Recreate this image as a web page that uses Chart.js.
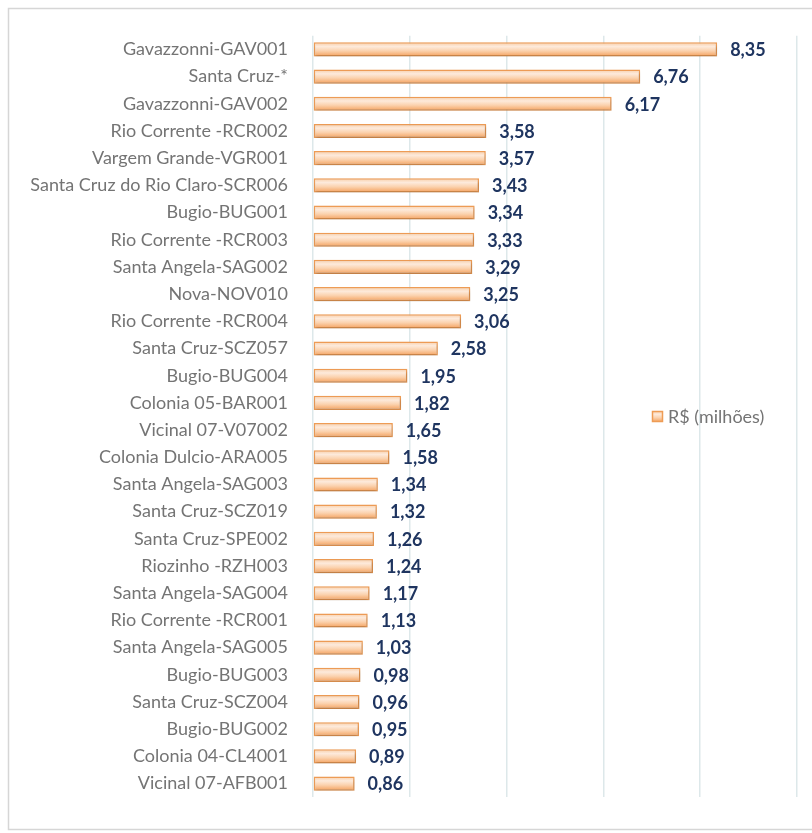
<!DOCTYPE html>
<html>
<head>
<meta charset="utf-8">
<script src="https://cdn.jsdelivr.net/npm/chart.js@4/dist/chart.umd.min.js"></script>
<style>
  html, body { margin: 0; padding: 0; background: #ffffff; }
  #wrap { width: 812px; height: 833px; position: relative; }
</style>
</head>
<body>
<div id="wrap"><canvas id="chart" width="812" height="833"></canvas></div>
<script>
// Investment per stretch, in millions of reais
const categories = [
  'Gavazzonni-GAV001', 'Santa Cruz-*', 'Gavazzonni-GAV002', 'Rio Corrente -RCR002',
  'Vargem Grande-VGR001', 'Santa Cruz do Rio Claro-SCR006', 'Bugio-BUG001',
  'Rio Corrente -RCR003', 'Santa Angela-SAG002', 'Nova-NOV010', 'Rio Corrente -RCR004',
  'Santa Cruz-SCZ057', 'Bugio-BUG004', 'Colonia 05-BAR001', 'Vicinal 07-V07002',
  'Colonia Dulcio-ARA005', 'Santa Angela-SAG003', 'Santa Cruz-SCZ019', 'Santa Cruz-SPE002',
  'Riozinho -RZH003', 'Santa Angela-SAG004', 'Rio Corrente -RCR001', 'Santa Angela-SAG005',
  'Bugio-BUG003', 'Santa Cruz-SCZ004', 'Bugio-BUG002', 'Colonia 04-CL4001', 'Vicinal 07-AFB001'
];
const values = [
  8.35, 6.76, 6.17, 3.58, 3.57, 3.43, 3.34, 3.33, 3.29, 3.25, 3.06, 2.58, 1.95, 1.82,
  1.65, 1.58, 1.34, 1.32, 1.26, 1.24, 1.17, 1.13, 1.03, 0.98, 0.96, 0.95, 0.89, 0.86
];
const seriesLabel = 'R$ (milhões)';
const axisMin = 0, axisMax = 10, axisStep = 2;

const LABEL_FONT = 'Lato, "Open Sans", sans-serif';
const BORDER_ORANGE = '#ee9c55';
const BAR_PCT = 0.52;

function barGradient(ctx, top, bottom) {
  const g = ctx.createLinearGradient(0, top, 0, bottom);
  g.addColorStop(0, '#f8cda6');
  g.addColorStop(0.3, '#fdeadb');
  g.addColorStop(0.6, '#fbd2ae');
  g.addColorStop(1, '#f4a05c');
  return g;
}

// Per-bar vertical gradient, computed from the category scale
function barFill(context) {
  const chart = context.chart;
  const yScale = chart.scales.y;
  const area = chart.chartArea;
  if (!yScale || !area) return '#f8c9a0';
  const center = yScale.getPixelForValue(context.dataIndex);
  const half = (area.bottom - area.top) / chart.data.labels.length * BAR_PCT / 2;
  return barGradient(chart.ctx, center - half, center + half);
}

// Frame around the whole figure
const framePlugin = {
  id: 'frame',
  beforeDraw(chart) {
    const ctx = chart.ctx;
    ctx.save();
    ctx.fillStyle = '#ffffff';
    ctx.fillRect(0, 0, chart.width, chart.height);
    ctx.strokeStyle = '#d6d6d6';
    ctx.lineWidth = 1.5;
    ctx.strokeRect(8.5, 8.5, chart.width + 10, 821);
    ctx.restore();
  }
};

// Soft shadow under the bars
const shadowPlugin = {
  id: 'barShadow',
  beforeDatasetDraw(chart) {
    const ctx = chart.ctx;
    ctx.save();
    ctx.shadowColor = 'rgba(0,0,0,0.22)';
    ctx.shadowBlur = 3;
    ctx.shadowOffsetX = 1;
    ctx.shadowOffsetY = 2;
  },
  afterDatasetDraw(chart) {
    chart.ctx.restore();
  }
};

// Value labels at the end of each bar, plus the legend entry
const labelPlugin = {
  id: 'valueLabels',
  afterDatasetsDraw(chart) {
    const ctx = chart.ctx;
    const ds = chart.data.datasets[0];
    const meta = chart.getDatasetMeta(0);
    ctx.save();
    ctx.font = 'bold 18px ' + LABEL_FONT;
    ctx.fillStyle = '#1f3560';
    ctx.textAlign = 'left';
    ctx.textBaseline = 'middle';
    meta.data.forEach((el, i) => {
      const txt = ds.data[i].toFixed(2).replace('.', ',');
      ctx.fillText(txt, el.x + 13, el.y + 1);
    });

    // legend
    const lx = 652, ly = 411, ls = 11;
    ctx.fillStyle = barGradient(ctx, ly, ly + ls);
    ctx.fillRect(lx, ly, ls, ls);
    ctx.strokeStyle = BORDER_ORANGE;
    ctx.lineWidth = 1.5;
    ctx.strokeRect(lx + 0.5, ly + 0.5, ls - 1, ls - 1);
    ctx.font = '18px ' + LABEL_FONT;
    ctx.fillStyle = '#747474';
    ctx.fillText(ds.label, lx + 16, ly + ls / 2 + 1);
    ctx.restore();
  }
};

new Chart(document.getElementById('chart'), {
  type: 'bar',
  data: {
    labels: categories,
    datasets: [{
      label: seriesLabel,
      data: values,
      backgroundColor: barFill,
      borderColor: BORDER_ORANGE,
      borderWidth: 1.5,
      borderSkipped: false,
      categoryPercentage: 1,
      barPercentage: BAR_PCT
    }]
  },
  options: {
    indexAxis: 'y',
    responsive: false,
    animation: false,
    layout: { padding: { top: 33, bottom: 20, right: 15, left: 0 } },
    plugins: {
      legend: { display: false },
      tooltip: { enabled: false }
    },
    scales: {
      x: {
        min: axisMin,
        max: axisMax,
        ticks: { display: false, stepSize: axisStep },
        grid: { color: '#dde8ea', lineWidth: 1.5, drawTicks: false },
        border: { display: false },
        afterFit(scale) { scale.height = 0; }
      },
      y: {
        ticks: {
          color: '#747474',
          font: { family: LABEL_FONT, size: 18 },
          padding: 25,
          autoSkip: false
        },
        grid: { display: false, drawTicks: false },
        border: { display: false },
        afterFit(scale) { scale.width = 313; }
      }
    }
  },
  plugins: [framePlugin, shadowPlugin, labelPlugin]
});
</script>
</body>
</html>
